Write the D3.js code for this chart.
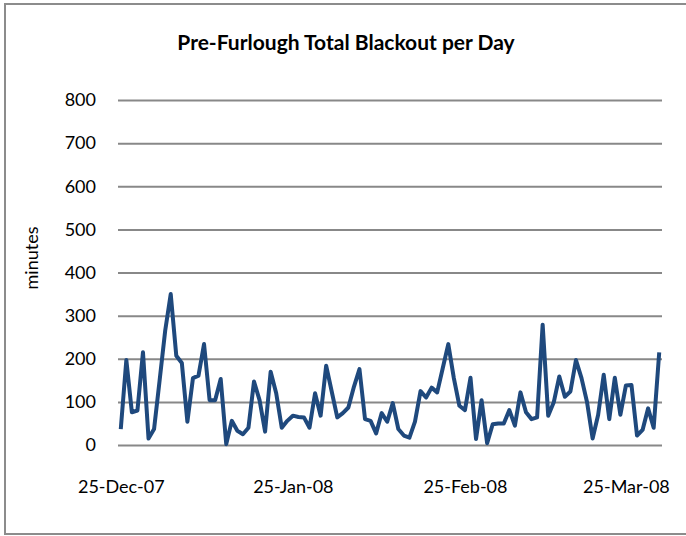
<!DOCTYPE html>
<html>
<head>
<meta charset="utf-8">
<script src="https://cdn.jsdelivr.net/npm/d3@7"></script>
<style>
  body { margin: 0; background: #fff; }
  text { font-family: Lato, "Open Sans", sans-serif; fill: #000; }
</style>
</head>
<body>
<div id="chart"></div>
<script>
// minutes of blackout per day, one value per day from 25-Dec-07
var startDay = "2007-12-25";
var minutes = [
  37, 197, 76, 80, 215, 15, 37, 150, 265, 350,
  207, 190, 54, 155, 161, 234, 104, 104, 153, 2,
  56, 33, 25, 40, 147, 104, 31, 170, 120, 40,
  56, 68, 65, 64, 40, 120, 68, 184, 124, 64,
  74, 87, 135, 176, 60, 56, 27, 74, 54, 97,
  37, 22, 17, 54, 125, 110, 133, 122, 178, 234,
  155, 91, 81, 156, 14, 104, 4, 48, 50, 50,
  81, 45, 122, 76, 60, 64, 279, 68, 99, 159,
  112, 124, 197, 155, 99, 15, 70, 163, 60, 156,
  70, 138, 139, 22, 35, 85, 40, 215
];
var yTicks = [0, 100, 200, 300, 400, 500, 600, 700, 800];
var xTickDays = ["2007-12-25", "2008-01-25", "2008-02-25", "2008-03-25"];

var W = 686, H = 536;
var margin = {top: 100, right: 24, bottom: 91, left: 118},
    width = W - margin.left - margin.right,
    height = H - margin.top - margin.bottom;

var parseDay = d3.timeParse("%Y-%m-%d");
var first = parseDay(startDay);
var data = minutes.map(function(v, i) {
  return {day: d3.timeDay.offset(first, i), value: v};
});

var svg = d3.select("#chart").append("svg")
  .attr("width", W)
  .attr("height", H);

// chart frame (right edge runs off the page like in the source)
svg.append("rect")
  .attr("x", 5).attr("y", 4)
  .attr("width", W + 10).attr("height", 530)
  .attr("fill", "none")
  .attr("stroke", "#8c8c8c")
  .attr("stroke-width", 2);

svg.append("text")
  .attr("x", 346)
  .attr("y", 50)
  .attr("text-anchor", "middle")
  .style("font-size", "21px")
  .style("font-weight", "bold")
  .text("Pre-Furlough Total Blackout per Day");

var g = svg.append("g")
  .attr("transform", "translate(" + margin.left + "," + margin.top + ")");

// days sit in the middle of their slot, half a day of padding each side
var last = data[data.length - 1].day;
var x = d3.scaleTime()
  .domain([d3.timeHour.offset(first, -12), d3.timeHour.offset(last, 12)])
  .range([0, width]);

var y = d3.scaleLinear()
  .domain([0, 800])
  .range([height, 0]);

// gridlines + y labels
var yAxis = g.append("g")
  .call(d3.axisLeft(y).tickValues(yTicks).tickSize(-width).tickPadding(22).tickFormat(d3.format("d")));
yAxis.select(".domain").remove();
yAxis.selectAll("line").attr("stroke", "#888").attr("stroke-width", 2);
yAxis.selectAll("text").style("font-size", "18px").attr("font-family", null);

// x labels
var xAxis = g.append("g")
  .attr("transform", "translate(0," + height + ")")
  .call(d3.axisBottom(x).tickValues(xTickDays.map(parseDay)).tickSize(0).tickPadding(35)
    .tickFormat(d3.timeFormat("%d-%b-%y")));
xAxis.select(".domain").remove();
xAxis.selectAll("text").style("font-size", "18px").attr("font-family", null);

svg.append("text")
  .attr("transform", "translate(38,258) rotate(-90)")
  .attr("text-anchor", "middle")
  .style("font-size", "18px")
  .text("minutes");

var line = d3.line()
  .x(function(d) { return x(d.day); })
  .y(function(d) { return y(d.value); });

g.append("path")
  .datum(data)
  .attr("fill", "none")
  .attr("stroke", "#1F497D")
  .attr("stroke-width", 4)
  .attr("stroke-linejoin", "round")
  .attr("d", line);
</script>
</body>
</html>
